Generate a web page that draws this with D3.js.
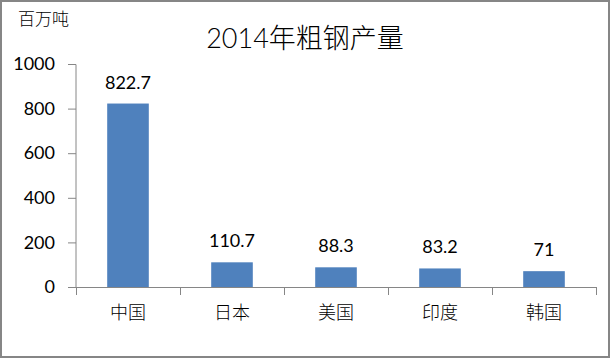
<!DOCTYPE html>
<html><head><meta charset="utf-8">
<script src="https://cdn.jsdelivr.net/npm/d3@7"></script>
<style>body{margin:0;background:#fff}svg{display:block}</style>
</head><body>
<script>
const categories = ["中国","日本","美国","印度","韩国"];
const values = [822.7,110.7,88.3,83.2,71];
const yTicks = [0,200,400,600,800,1000];
const title = "2014年粗钢产量";
const unit = "百万吨";

const W=610,H=358;
const font = "Lato, 'Noto Sans CJK SC', sans-serif";
const svg=d3.select("body").append("svg").attr("width",W).attr("height",H);
svg.append("rect").attr("x",1).attr("y",1).attr("width",W-2).attr("height",H-2)
  .attr("fill","#fff").attr("stroke","#868686").attr("stroke-width",2);

const x=d3.scaleBand().domain(categories).range([76,596]).paddingInner(0.6).paddingOuter(0.3);
const xb=d3.scaleBand().domain(categories).range([76,596]);
const y=d3.scaleLinear().domain([0,1000]).range([287,64]);

// y axis
const ya=svg.append("g").attr("transform","translate(76,0)")
  .call(d3.axisLeft(y).tickValues(yTicks).tickFormat(d3.format("d")).tickSize(8).tickPadding(13));
ya.select(".domain").attr("stroke","#868686").attr("d","M0,64.5V287.5");
ya.selectAll(".tick line").attr("stroke","#868686");
ya.selectAll(".tick text").attr("font-family",font).attr("font-size",18).attr("fill","#000");

// bars
svg.selectAll("rect.bar").data(values).enter().append("rect").attr("class","bar")
  .attr("x",(d,i)=>x(categories[i])).attr("width",x.bandwidth())
  .attr("y",d=>y(d)).attr("height",d=>y(0)-y(d)).attr("fill","#4F81BD");

// x axis
const xa=svg.append("g").attr("transform","translate(0,287.5)")
  .call(d3.axisBottom(xb).tickSize(0).tickPadding(0));
xa.select(".domain").attr("stroke","#868686").attr("d","M76,0H596");
xa.selectAll(".tick text").attr("font-family",font).attr("font-size",18).attr("font-weight",300).attr("fill","#000").attr("dy","1.75em");
const bounds = categories.map(c=>xb(c)).concat([596]);
svg.append("g").selectAll("line").data(bounds).enter().append("line")
  .attr("x1",d=>Math.round(d)+0.5).attr("x2",d=>Math.round(d)+0.5).attr("y1",287).attr("y2",295)
  .attr("stroke","#868686");

// value labels
svg.selectAll("text.val").data(values).enter().append("text").attr("class","val")
  .attr("x",(d,i)=>x(categories[i])+x.bandwidth()/2).attr("y",d=>y(d)-15)
  .attr("text-anchor","middle").attr("font-family",font).attr("font-size",18).text(d=>d);

svg.append("text").attr("x",305).attr("y",48).attr("text-anchor","middle")
  .attr("font-family",font).attr("font-size",27).attr("font-weight",300).text(title);
svg.append("text").attr("x",18).attr("y",25)
  .attr("font-family",font).attr("font-size",17).attr("font-weight",300).text(unit);
</script>
</body></html>
